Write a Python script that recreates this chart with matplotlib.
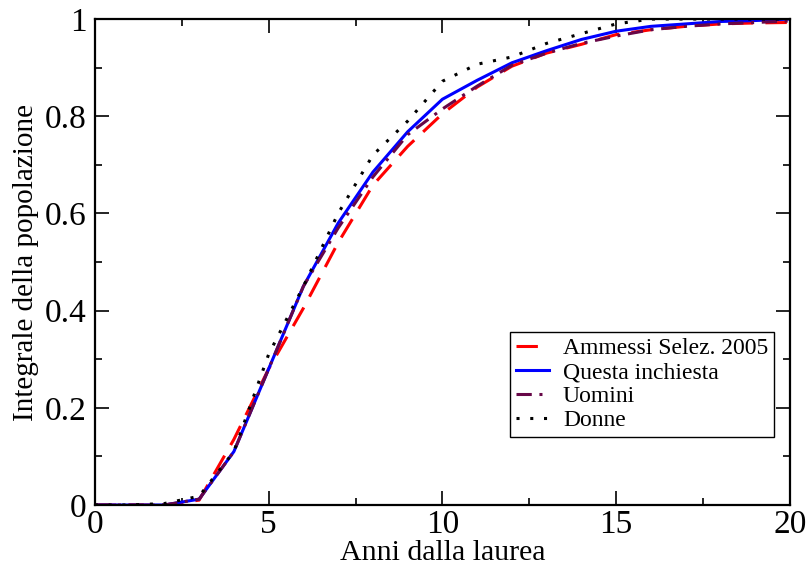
import numpy as np
import matplotlib
matplotlib.use("Agg")
import matplotlib.pyplot as plt
from matplotlib.ticker import MultipleLocator, FormatStrFormatter

# Dati
anni = list(range(21))
ammessi = [0, 0, 0, 0.01, 0.135, 0.28, 0.405, 0.54, 0.658, 0.738, 0.805, 0.86, 0.903,
           0.93, 0.948, 0.968, 0.978, 0.985, 0.99, 0.992, 0.993]
inchiesta = [0, 0, 0, 0.012, 0.11, 0.28, 0.45, 0.58, 0.685, 0.768, 0.835, 0.874, 0.91,
             0.935, 0.958, 0.975, 0.985, 0.99, 0.995, 0.997, 1.0]
uomini = [0, 0, 0, 0.012, 0.11, 0.28, 0.45, 0.57, 0.675, 0.762, 0.815, 0.862, 0.905,
          0.93, 0.95, 0.965, 0.978, 0.985, 0.99, 0.993, 0.996]
donne = [0, 0, 0.003, 0.018, 0.11, 0.31, 0.45, 0.60, 0.72, 0.79, 0.872, 0.907, 0.922,
         0.95, 0.97, 0.99, 1.0, 1.0, 1.0, 1.0, 1.0]

plt.rcParams['font.family'] = ['Liberation Serif', 'DejaVu Serif']

fig = plt.figure(figsize=(8.11, 5.69), dpi=100)
ax = fig.add_axes([0.117, 0.1125, 0.857, 0.854])

lw = 2.2
ax.plot(anni, ammessi, color='#ff0000', lw=lw, dashes=(7, 4), label='Ammessi Selez. 2005')
ax.plot(anni, inchiesta, color='#0000ff', lw=lw, label='Questa inchiesta')
ax.plot(anni, uomini, color='#670748', lw=lw, dashes=(5, 2.5, 1, 2.5), label='Uomini')
ax.plot(anni, donne, color='black', lw=lw, dashes=(1, 3.5), label='Donne')

ax.set_xlim(0, 20)
ax.set_ylim(0, 1)
ax.xaxis.set_major_locator(MultipleLocator(5))
ax.xaxis.set_minor_locator(MultipleLocator(2.5))
ax.yaxis.set_major_locator(MultipleLocator(0.2))
ax.yaxis.set_minor_locator(MultipleLocator(0.1))
ax.yaxis.set_major_formatter(FormatStrFormatter('%g'))

ax.tick_params(which='both', direction='in', top=True, right=True, width=1.2)
ax.tick_params(which='major', length=10, labelsize=24)
ax.tick_params(which='minor', length=5)
ax.tick_params(axis='x', which='major', pad=3)
ax.tick_params(axis='y', which='major', pad=6)
for s in ax.spines.values():
    s.set_linewidth(1.6)

ax.set_xlabel('Anni dalla laurea', fontsize=21.5, labelpad=0)
ax.set_ylabel('Integrale della popolazione', fontsize=21, labelpad=4)

leg = ax.legend(loc='upper left', bbox_to_anchor=(0.597, 0.356), fontsize=17,
                handlelength=1.4, handletextpad=0.6, labelspacing=0.1,
                borderpad=0.25, borderaxespad=0, fancybox=False, framealpha=1)
leg.get_frame().set_edgecolor('black')
leg.get_frame().set_linewidth(1.0)

fig.savefig('out.png', dpi=100)
